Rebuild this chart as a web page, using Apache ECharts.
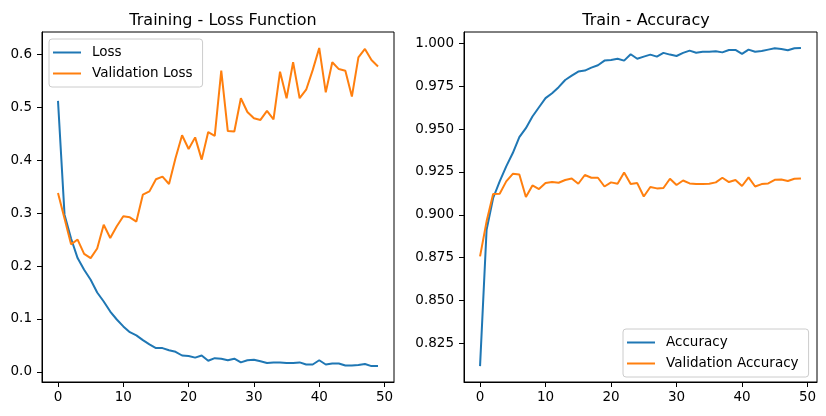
<!DOCTYPE html>
<html>
<head>
<meta charset="utf-8">
<script src="https://cdn.jsdelivr.net/npm/echarts@6/dist/echarts.min.js"></script>
<style>
html,body{margin:0;padding:0;background:#fff;}
#chart{width:826px;height:416px;}
</style>
</head>
<body>
<div id="chart"></div>
<script>
const epochs = Array.from({length: 50}, (_, i) => i);
const loss = [0.512,0.297,0.252,0.215,0.193,0.174,0.150,0.133,0.114,0.099,
  0.086,0.075,0.069,0.060,0.052,0.045,0.045,0.041,0.038,0.031,
  0.030,0.027,0.031,0.021,0.026,0.025,0.022,0.025,0.018,0.022,
  0.023,0.020,0.017,0.018,0.018,0.017,0.017,0.018,0.014,0.014,
  0.022,0.014,0.016,0.016,0.012,0.012,0.013,0.015,0.011,0.011];
const valLoss = [0.338,0.290,0.241,0.250,0.223,0.215,0.233,0.278,0.253,0.275,
  0.294,0.292,0.284,0.335,0.341,0.364,0.369,0.355,0.404,0.447,
  0.421,0.443,0.401,0.453,0.446,0.569,0.455,0.454,0.517,0.491,
  0.479,0.476,0.493,0.477,0.567,0.517,0.585,0.517,0.533,0.570,
  0.612,0.528,0.585,0.572,0.569,0.520,0.594,0.610,0.589,0.577];
const acc = [0.8118,0.8913,0.9098,0.9195,0.9282,0.9360,0.9453,0.9505,0.9573,0.9627,
  0.9680,0.9709,0.9744,0.9786,0.9811,0.9835,0.9841,0.9858,0.9872,0.9899,
  0.9903,0.9910,0.9899,0.9936,0.9910,0.9922,0.9934,0.9922,0.9944,0.9934,
  0.9926,0.9944,0.9957,0.9945,0.9951,0.9951,0.9953,0.9947,0.9961,0.9961,
  0.9938,0.9963,0.9951,0.9955,0.9963,0.9971,0.9967,0.9959,0.9971,0.9973];
const valAcc = [0.8758,0.8962,0.9121,0.9123,0.9195,0.9239,0.9235,0.9104,0.9171,0.9150,
  0.9185,0.9191,0.9187,0.9203,0.9212,0.9181,0.9232,0.9216,0.9216,0.9165,
  0.9189,0.9181,0.9247,0.9179,0.9185,0.9107,0.9162,0.9154,0.9156,0.9210,
  0.9174,0.9200,0.9183,0.9179,0.9179,0.9181,0.9189,0.9216,0.9191,0.9203,
  0.9168,0.9218,0.9165,0.9179,0.9183,0.9204,0.9206,0.9197,0.9210,0.9212];
const xTicks = [0,10,20,30,40,50];
const lossTicks = [0.0,0.1,0.2,0.3,0.4,0.5,0.6];
const accTicks = [0.825,0.850,0.875,0.900,0.925,0.950,0.975,1.000];
const titles = ['Training - Loss Function','Train - Accuracy'];

const FONT = 'DejaVu Sans';
const BLUE = '#1f77b4', ORANGE = '#ff7f0e';

function padRange(arrs){
  let mn = Infinity, mx = -Infinity;
  arrs.forEach(a => a.forEach(v => { mn = Math.min(mn, v); mx = Math.max(mx, v); }));
  const m = (mx - mn) * 0.05;
  return [mn - m, mx + m];
}
const lossRange = padRange([loss, valLoss]);
const accRange = padRange([acc, valAcc]);
const xPad = (epochs[epochs.length-1] - epochs[0]) * 0.05;

const pairs = (ys) => epochs.map((x, i) => [x, ys[i]]);

function xAxisCfg(gi){
  return {
    type: 'value', gridIndex: gi,
    min: epochs[0] - xPad, max: epochs[epochs.length-1] + xPad,
    splitLine: {show: false},
    axisLine: {show: true, onZero: false, lineStyle: {color: '#000', width: 1}},
    axisTick: {show: true, length: 5, lineStyle: {color: '#000', width: 1}, customValues: xTicks},
    axisLabel: {color: '#000', fontFamily: FONT, fontSize: 13.5, margin: 8, customValues: xTicks,
      formatter: v => String(v)}
  };
}
function yAxisCfg(gi, range, ticks, dec){
  return {
    type: 'value', gridIndex: gi, min: range[0], max: range[1],
    splitLine: {show: false},
    axisLine: {show: true, onZero: false, lineStyle: {color: '#000', width: 1}},
    axisTick: {show: true, length: 5, lineStyle: {color: '#000', width: 1}, customValues: ticks},
    axisLabel: {color: '#000', fontFamily: FONT, fontSize: 13.5, margin: 10, customValues: ticks,
      formatter: v => Number(v).toFixed(dec)}
  };
}
function legendCfg(names, pos){
  return Object.assign({
    orient: 'vertical', data: names,
    icon: 'rect', itemWidth: 28, itemHeight: 2, itemGap: 6,
    padding: [6, 10, 6, 4],
    borderColor: '#cccccc', borderWidth: 1, borderRadius: 3,
    backgroundColor: 'rgba(255,255,255,0.8)',
    textStyle: {fontFamily: FONT, fontSize: 13.5, color: '#000', lineHeight: 15, padding: [0,0,0,6]},
    selectedMode: false
  }, pos);
}

const chart = echarts.init(document.getElementById('chart'), null, {renderer: 'canvas'});
chart.setOption({
  animation: false,
  backgroundColor: '#fff',
  title: [
    {text: titles[0], left: 218, top: 8, textAlign: 'center',
      textStyle: {fontFamily: FONT, fontSize: 16, fontWeight: 'normal', color: '#000'}},
    {text: titles[1], left: 641, top: 8, textAlign: 'center',
      textStyle: {fontFamily: FONT, fontSize: 16, fontWeight: 'normal', color: '#000'}}
  ],
  grid: [
    {left: 42, top: 32, width: 352, height: 350, show: true, borderColor: '#000', borderWidth: 1, backgroundColor: 'transparent'},
    {left: 464, top: 32, width: 353, height: 350, show: true, borderColor: '#000', borderWidth: 1, backgroundColor: 'transparent'}
  ],
  xAxis: [xAxisCfg(0), xAxisCfg(1)],
  yAxis: [yAxisCfg(0, lossRange, lossTicks, 1), yAxisCfg(1, accRange, accTicks, 3)],
  legend: [
    legendCfg(['Loss','Validation Loss'], {left: 49, top: 39}),
    legendCfg(['Accuracy','Validation Accuracy'], {left: 623, top: 329})
  ],
  series: [
    {name: 'Loss', type: 'line', xAxisIndex: 0, yAxisIndex: 0, data: pairs(loss),
      showSymbol: false, symbol: 'none', lineStyle: {color: BLUE, width: 2}, itemStyle: {color: BLUE}},
    {name: 'Validation Loss', type: 'line', xAxisIndex: 0, yAxisIndex: 0, data: pairs(valLoss),
      showSymbol: false, symbol: 'none', lineStyle: {color: ORANGE, width: 2}, itemStyle: {color: ORANGE}},
    {name: 'Accuracy', type: 'line', xAxisIndex: 1, yAxisIndex: 1, data: pairs(acc),
      showSymbol: false, symbol: 'none', lineStyle: {color: BLUE, width: 2}, itemStyle: {color: BLUE}},
    {name: 'Validation Accuracy', type: 'line', xAxisIndex: 1, yAxisIndex: 1, data: pairs(valAcc),
      showSymbol: false, symbol: 'none', lineStyle: {color: ORANGE, width: 2}, itemStyle: {color: ORANGE}}
  ]
});
</script>
</body>
</html>
